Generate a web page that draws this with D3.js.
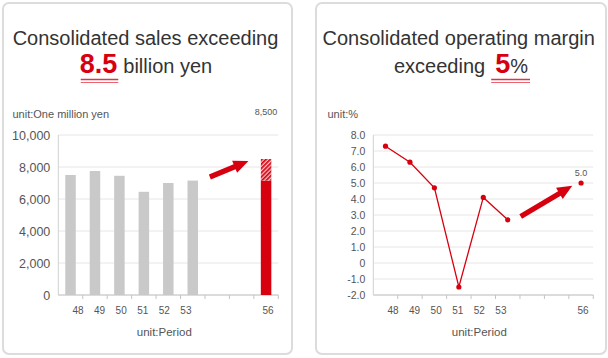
<!DOCTYPE html>
<html><head><meta charset="utf-8">
<script src="https://cdn.jsdelivr.net/npm/d3@7"></script>
<style>
html,body{margin:0;padding:0;background:#fff;}
svg{display:block;font-family:"Liberation Sans",Arial,sans-serif;}
</style></head>
<body><svg id="c" width="608" height="358"></svg>
<script>
// ---- data ----
const periods = ["48","49","50","51","52","53","54","55","56"];
const labelPeriods = ["48","49","50","51","52","53","56"];
const salesPeriods = ["48","49","50","51","52","53"];
const salesValues = [7500, 7750, 7450, 6450, 7000, 7150];
const salesTargetPeriod = "56";
const salesTargetBase = 7150;
const salesTargetValue = 8500;
const salesTicks = [0, 2000, 4000, 6000, 8000, 10000];
const marginPeriods = ["48","49","50","51","52","53"];
const marginValues = [7.3, 6.3, 4.7, -1.5, 4.1, 2.7];
const marginTargetPeriod = "56";
const marginTargetValue = 5.0;
const marginTicks = [-2, -1, 0, 1, 2, 3, 4, 5, 6, 7, 8];

const RED = "#d7000f";
const svg = d3.select("#c");
const defs = svg.append("defs");
const pat = defs.append("pattern").attr("id","hatch").attr("patternUnits","userSpaceOnUse")
  .attr("width",3).attr("height",3).attr("patternTransform","rotate(45)");
pat.append("rect").attr("width",3).attr("height",3).attr("fill","#f6c8cc");
pat.append("rect").attr("width",1.7).attr("height",3).attr("fill",RED);

// cards
[[3,3,289,351],[316,3,290,351]].forEach(([x,y,w,h])=>{
  svg.append("rect").attr("x",x).attr("y",y).attr("width",w).attr("height",h)
    .attr("rx",6).attr("fill","#fff").attr("stroke","#dcdcdc").attr("stroke-width",2);
});

// titles
function titleLine(parts, cx, baseline){
  const g = svg.append("g");
  const nodes = parts.map(p=>{
    const t = g.append("text").attr("y",baseline).text(p.text)
      .attr("font-size",p.size).attr("fill",p.color).attr("font-weight",p.bold?"bold":"normal");
    return {t, w: t.node().getComputedTextLength(), p};
  });
  const total = d3.sum(nodes, n=>n.w + (n.p.gap||0));
  let x = cx - total/2;
  const out = [];
  nodes.forEach(n=>{ x += (n.p.gap||0); n.t.attr("x",x); out.push([x, x+n.w]); x += n.w; });
  return out;
}
function underline(x0,x1){
  svg.append("line").attr("x1",x0).attr("x2",x1).attr("y1",79.5).attr("y2",79.5).attr("stroke","#e03444").attr("stroke-width",1.3);
  svg.append("line").attr("x1",x0).attr("x2",x1).attr("y1",82.5).attr("y2",82.5).attr("stroke","#e86470").attr("stroke-width",1.1);
}
titleLine([{text:"Consolidated sales exceeding",size:20,color:"#333"}],145.5,45);
const l2 = titleLine([{text:"8.5",size:27,color:RED,bold:true},{text:"billion yen",size:20,color:"#333",gap:6}],146,72.5);
underline(l2[0][0]+1, l2[0][1]+1);
titleLine([{text:"Consolidated operating margin",size:20,color:"#333"}],458.7,45);
const r2 = titleLine([{text:"exceeding",size:20,color:"#333"},{text:"5",size:27,color:RED,bold:true,gap:10},{text:"%",size:20,color:"#333"}],461,72.5);
underline(r2[1][0]-4, r2[2][1]+2);

// ---- common axis builder ----
function frame(x0, x1, y, ticks, fmt, fontSize){
  const band = d3.scaleBand().domain(periods).range([x0,x1]);
  const lab = d3.scaleLinear().domain([48,53,56]).range([x0+19.7, x0+127.6, x0+209.7]);
  const g = svg.append("g");
  g.selectAll("line.grid").data(ticks).join("line")
    .attr("x1",x0).attr("x2",x1).attr("y1",d=>y(d)).attr("y2",d=>y(d))
    .attr("stroke","#e6e6e6").attr("stroke-width",1);
  g.append("line").attr("x1",x0).attr("x2",x0).attr("y1",y(ticks[ticks.length-1])).attr("y2",y(ticks[0]))
    .attr("stroke","#d0d0d0");
  g.append("line").attr("x1",x0).attr("x2",x1).attr("y1",y(ticks[0])).attr("y2",y(ticks[0])).attr("stroke","#c4c4c4");
  const bounds = periods.map(p=>band(p)).concat([x1]);
  g.selectAll("line.tk").data(bounds.slice(1)).join("line")
    .attr("x1",d=>d).attr("x2",d=>d).attr("y1",y(ticks[0])).attr("y2",y(ticks[0])+4).attr("stroke","#c4c4c4");
  g.selectAll("text.yl").data(ticks).join("text")
    .attr("x",x0-8).attr("y",d=>y(d)).attr("dy","0.36em").attr("text-anchor","end")
    .attr("font-size",fontSize).attr("fill","#555").text(fmt);
  g.selectAll("text.xl").data(labelPeriods).join("text")
    .attr("x",d=>lab(+d)).attr("y",313.5).attr("text-anchor","middle")
    .attr("font-size",10).attr("fill","#555").text(d=>d);
  g.append("text").attr("x",(x0+x1)/2-4).attr("y",336).attr("text-anchor","middle")
    .attr("font-size",11.5).attr("fill","#555").text("unit:Period");
  return band;
}
function arrow(xa,ya,xb,yb){
  const dx=xb-xa, dy=yb-ya, L=Math.hypot(dx,dy), ux=dx/L, uy=dy/L, nx=-uy, ny=ux;
  const hl=15, hw=6.5, sw=2.6;
  const bx=xb-ux*hl, by=yb-uy*hl;
  const pts=[[xa+nx*sw,ya+ny*sw],[bx+nx*sw,by+ny*sw],[bx+nx*hw,by+ny*hw],[xb,yb],
    [bx-nx*hw,by-ny*hw],[bx-nx*sw,by-ny*sw],[xa-nx*sw,ya-ny*sw]];
  svg.append("polygon").attr("points",pts.map(p=>p.join(",")).join(" ")).attr("fill",RED);
}

// ---- left: sales ----
{
  const x0=58.3, x1=278.3;
  const y = d3.scaleLinear().domain([0,10000]).range([295,135]);
  const band = frame(x0,x1,y,salesTicks,d3.format(","),12.5);
  const bw=10.5;
  svg.append("g").selectAll("rect").data(salesPeriods).join("rect")
    .attr("x",(d)=>band(d)+band.bandwidth()/2-bw/2).attr("width",bw)
    .attr("y",(d,i)=>y(salesValues[i])).attr("height",(d,i)=>y(0)-y(salesValues[i]))
    .attr("fill","#c9c9c9");
  const cx = band(salesTargetPeriod)+band.bandwidth()/2;
  svg.append("rect").attr("x",cx-bw/2).attr("width",bw).attr("y",y(salesTargetBase))
    .attr("height",y(0)-y(salesTargetBase)).attr("fill",RED);
  svg.append("rect").attr("x",cx-bw/2).attr("width",bw).attr("y",y(salesTargetValue))
    .attr("height",y(salesTargetBase)-y(salesTargetValue)).attr("fill","url(#hatch)");
  svg.append("text").attr("x",cx).attr("y",115).attr("text-anchor","middle").attr("font-size",9)
    .attr("fill","#555").text(d3.format(",")(salesTargetValue));
  svg.append("text").attr("x",12.5).attr("y",118).attr("font-size",11).attr("fill","#555").text("unit:One million yen");
  const ix = d3.scaleLinear().domain([0,9]).range([x0,x1]);
  arrow(ix(6.2), y(7375), ix(7.78), y(8375));
}

// ---- right: margin ----
{
  const x0=373.3, x1=593.3;
  const y = d3.scaleLinear().domain([-2,8]).range([295,135]);
  const band = frame(x0,x1,y,marginTicks,d=>d===0?"0":d3.format(".1f")(d).replace("\u2212","-"),10.5);
  const cxf = p=>band(p)+band.bandwidth()/2;
  const line = d3.line().x((d,i)=>cxf(marginPeriods[i])).y(d=>y(d));
  svg.append("path").attr("d",line(marginValues)).attr("fill","none").attr("stroke",RED).attr("stroke-width",1.3);
  svg.append("g").selectAll("circle").data(marginValues).join("circle")
    .attr("cx",(d,i)=>cxf(marginPeriods[i])).attr("cy",d=>y(d)).attr("r",2.6).attr("fill",RED);
  const tx=cxf(marginTargetPeriod);
  svg.append("circle").attr("cx",tx).attr("cy",y(marginTargetValue)).attr("r",2.6).attr("fill",RED);
  svg.append("text").attr("x",tx).attr("y",176).attr("text-anchor","middle").attr("font-size",9)
    .attr("fill","#555").text(d3.format(".1f")(marginTargetValue));
  svg.append("text").attr("x",327.5).attr("y",118).attr("font-size",11).attr("fill","#555").text("unit:%");
  const ix = d3.scaleLinear().domain([0,9]).range([x0,x1]);
  arrow(ix(6.03), y(2.9), ix(8.14), y(4.83));
}
</script></body></html>
